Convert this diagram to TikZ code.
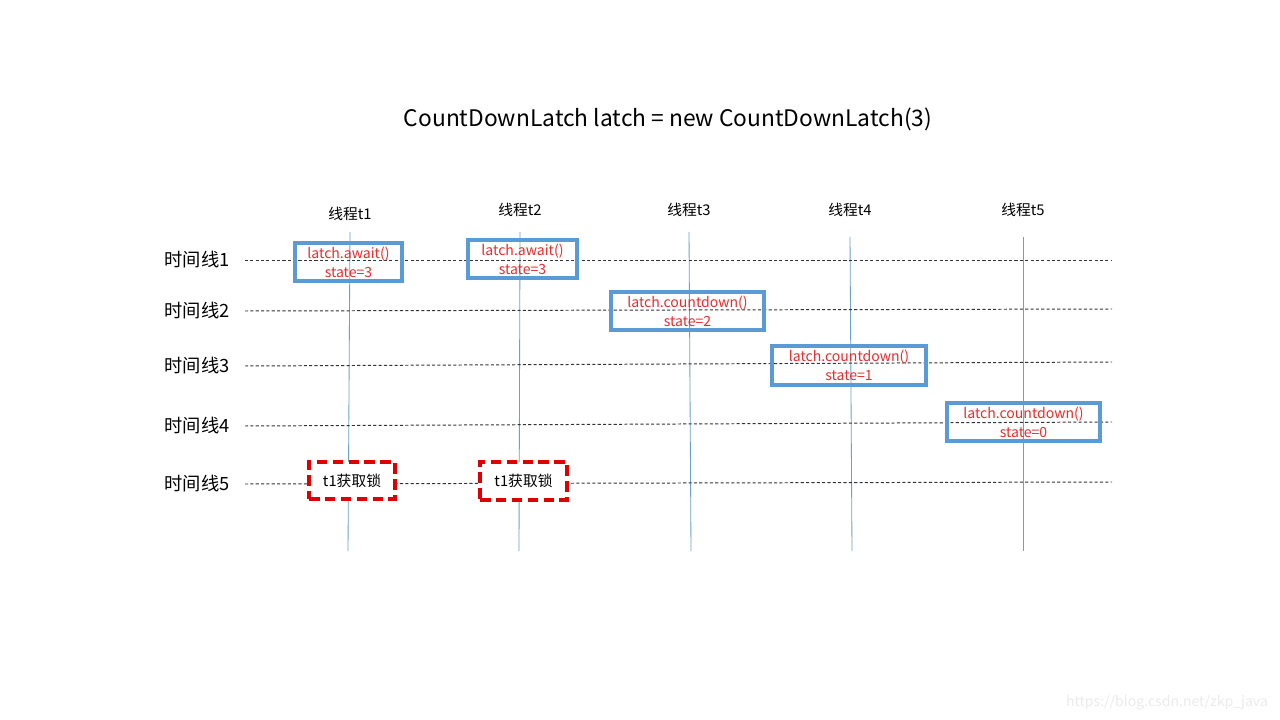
\documentclass[tikz,border=0pt]{standalone}
\usepackage{fontspec}
\setmainfont{Noto Sans CJK SC}
\usetikzlibrary{positioning}

\definecolor{lineblue}{RGB}{110,160,205}
\definecolor{boxblue}{RGB}{91,155,213}
\definecolor{textred}{RGB}{232,45,45}
\definecolor{lockred}{RGB}{222,0,0}

\tikzset{
  lifeline/.style={draw=lineblue, line width=0.6pt},
  timeline/.style={draw=black!80, dash pattern=on 2.2pt off 1.6pt, line width=0.7pt},
  opbox/.style={draw=boxblue, line width=2.5pt, text=textred, align=center,
    inner sep=0pt, font=\fontsize{10}{13.5}\selectfont},
  lockbox/.style={draw=lockred, line width=2.5pt, dash pattern=on 7.5pt off 3.8pt,
    fill=white, inner sep=0pt, font=\fontsize{10.5}{12}\selectfont},
  threadlabel/.style={font=\fontsize{10.5}{12}\selectfont},
  timelabel/.style={font=\fontsize{13}{15}\selectfont}
}

\begin{document}
\begin{tikzpicture}[x=0.025cm, y=-0.025cm]
  \useasboundingbox[fill=white] (0,0) rectangle (1280,720);

  \node[font=\fontsize{16.2}{20}\selectfont] (title) at (668,119)
    {CountDownLatch latch = new CountDownLatch(3)};

  % threads
  \foreach \n/\xt/\yt/\xb in {1/350/232/348, 2/520/232/519, 3/689/232/691,
                               4/850/237/852, 5/1023/237/1023} {
    \coordinate (t\n top) at (\xt,\yt);
    \coordinate (t\n bot) at (\xb,551);
    \draw[lifeline] (t\n top) -- (t\n bot);
  }
  \node[threadlabel] (t1) at (350,214) {线程t1};
  \node[threadlabel] (t2) at (520,210) {线程t2};
  \node[threadlabel] (t3) at (689,210) {线程t3};
  \node[threadlabel] (t4) at (850,210) {线程t4};
  \node[threadlabel] (t5) at (1023,210) {线程t5};

  % time lines
  \foreach \n/\yl/\yr in {1/260/260, 2/311/309, 3/366/362, 4/426/422, 5/484/482} {
    \node[timelabel] (tl\n) at (197,\yl) {时间线\n};
    \coordinate (tl\n s) at (245,\yl);
    \coordinate (tl\n e) at (1112,\yr);
    \draw[timeline] (tl\n s) -- (tl\n e);
  }

  \node[opbox, minimum width=2.675cm, minimum height=0.95cm] (await1) at (348.5,262)
    {latch.await()\\state=3};
  \node[opbox, minimum width=2.725cm, minimum height=0.95cm] (await2) at (522.5,259)
    {latch.await()\\state=3};
  \node[opbox, minimum width=3.825cm, minimum height=0.95cm] (down3) at (687.5,311)
    {latch.countdown()\\state=2};
  \node[opbox, minimum width=3.85cm, minimum height=0.975cm] (down4) at (849,365.5)
    {latch.countdown()\\state=1};
  \node[opbox, minimum width=3.825cm, minimum height=0.95cm] (down5) at (1023.5,422)
    {latch.countdown()\\state=0};

  \node[lockbox, minimum width=2.15cm, minimum height=0.925cm] (lock1) at (352,480.5)
    {t1获取锁};
  \node[lockbox, minimum width=2.175cm, minimum height=0.95cm] (lock2) at (523.5,481)
    {t1获取锁};

  \node[text=black!8, font=\fontsize{10}{12}\selectfont] (mark) at (1167,703)
    {https://blog.csdn.net/zkp\_java};
\end{tikzpicture}
\end{document}
